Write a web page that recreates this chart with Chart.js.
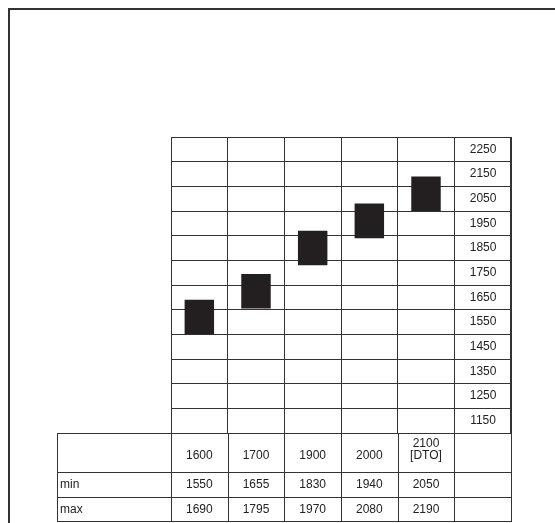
<!DOCTYPE html>
<html>
<head>
<meta charset="utf-8">
<script src="https://cdn.jsdelivr.net/npm/chart.js@4.4.0/dist/chart.umd.min.js"></script>
<style>
  html, body { margin: 0; padding: 0; overflow: hidden; background: #fff; }
  #frame { position: absolute; left: 8px; top: 8px; width: 700px; height: 700px; border: 2px solid #333; }
  #chart { position: absolute; left: 0; top: 0; }
</style>
</head>
<body>
<div id="frame"></div>
<canvas id="chart" width="555" height="523"></canvas>
<script>
// categories along the bottom, the last column holds the y labels
const categories = ['1600', '1700', '1900', '2000', '2100 [DTO]'];
const minValues = [1550, 1655, 1830, 1940, 2050];
const maxValues = [1690, 1795, 1970, 2080, 2190];
const rowNames = ['min', 'max'];
const yTickLabels = [1150, 1250, 1350, 1450, 1550, 1650, 1750, 1850, 1950, 2050, 2150, 2250];

const lineColor = '#333';
const textColor = '#222';
const tableHeight = 88;   // header row + min + max
const headerHeight = 39;
const valueRowHeight = 25;
const tableLeft = 57;

Chart.defaults.font.family = '"Liberation Sans", Arial, sans-serif';
Chart.defaults.font.size = 12;

// draws the min / max table under the plot, aligned on the x scale
const tablePlugin = {
    id: 'minMaxTable',
    afterDraw(chart) {
        const ctx = chart.ctx;
        const xs = chart.scales.x;
        const area = chart.chartArea;
        const top = area.bottom;
        const bottom = top + tableHeight;
        const colW = (area.right - area.left) / xs.ticks.length;
        const px = v => Math.round(v) + 0.5;

        ctx.save();
        ctx.strokeStyle = lineColor;
        ctx.lineWidth = 1;
        ctx.beginPath();
        // horizontal lines
        ctx.moveTo(tableLeft, px(top)); ctx.lineTo(area.left, px(top));
        [top + headerHeight, top + headerHeight + valueRowHeight, bottom].forEach(y => {
            ctx.moveTo(tableLeft, px(y));
            ctx.lineTo(area.right + 1, px(y));
        });
        // vertical lines
        ctx.moveTo(px(tableLeft), top); ctx.lineTo(px(tableLeft), bottom);
        for (let i = 0; i <= xs.ticks.length; i++) {
            const x = px(area.left + i * colW);
            ctx.moveTo(x, top); ctx.lineTo(x, bottom);
        }
        ctx.stroke();

        ctx.fillStyle = textColor;
        ctx.font = '12px "Liberation Sans", Arial, sans-serif';
        ctx.textBaseline = 'middle';
        [minValues, maxValues].forEach((vals, r) => {
            const y = top + headerHeight + valueRowHeight * r + valueRowHeight / 2;
            ctx.textAlign = 'left';
            ctx.fillText(rowNames[r], tableLeft + 3, y);
            ctx.textAlign = 'center';
            vals.forEach((v, i) => ctx.fillText(String(v), xs.getPixelForValue(i), y));
        });
        ctx.restore();
    }
};

const ctx = document.getElementById('chart').getContext('2d');

new Chart(ctx, {
    type: 'bar',
    data: {
        labels: categories.map(c => c.split(' ')).concat(['']),
        datasets: [{
            data: minValues.map((v, i) => [v, maxValues[i]]).concat([null]),
            backgroundColor: '#231f20',
            borderWidth: 0,
            barPercentage: 0.52,
            categoryPercentage: 1
        }]
    },
    options: {
        responsive: false,
        animation: false,
        layout: { padding: { left: 171, top: 137, right: 44, bottom: 2 } },
        plugins: { legend: { display: false }, tooltip: { enabled: false } },
        scales: {
            x: {
                offset: true,
                afterFit(scale) { scale.height = tableHeight; },
                border: { color: lineColor },
                grid: { color: lineColor, drawTicks: false, offset: true },
                ticks: {
                    color: textColor,
                    crossAlign: 'far',
                    padding: 11,
                    maxRotation: 0,
                    autoSkip: false,
                    font: { size: 12, lineHeight: 1 }
                }
            },
            y: {
                position: 'right',
                min: yTickLabels[0],
                max: yTickLabels[yTickLabels.length - 1] + 100,
                afterFit(scale) { scale.width = 0; },
                border: { color: lineColor },
                grid: { color: lineColor, drawTicks: false },
                ticks: {
                    stepSize: 100,
                    mirror: true,
                    crossAlign: 'center',
                    padding: -14.6,
                    labelOffset: -12.3,
                    autoSkip: false,
                    color: textColor,
                    callback: v => yTickLabels.includes(v) ? String(v) : ''
                }
            }
        }
    },
    plugins: [tablePlugin]
});
</script>
</body>
</html>
